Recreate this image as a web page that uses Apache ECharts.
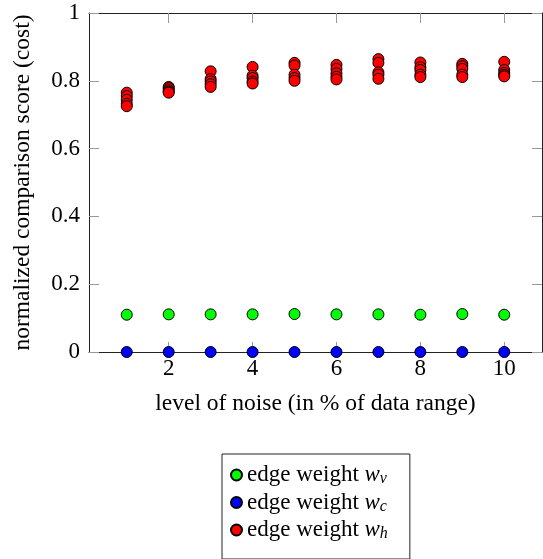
<!DOCTYPE html>
<html>
<head>
<meta charset="utf-8">
<script src="https://cdn.jsdelivr.net/npm/echarts@6.0.0/dist/echarts.min.js"></script>
<style>
  html, body { margin: 0; padding: 0; background: #fff; }
  #chart { width: 543px; height: 559px; }
</style>
</head>
<body>
<div id="chart"></div>
<script>
  var noiseLevels = [1, 2, 3, 4, 5, 6, 7, 8, 9, 10];
  var xTicks = [2, 4, 6, 8, 10];
  var yTicks = ['0', '0.2', '0.4', '0.6', '0.8', '1'];

  // edge weight w_v, one value per noise level
  var wvValues = [0.110, 0.111, 0.111, 0.111, 0.112, 0.111, 0.111, 0.110, 0.112, 0.110];
  // edge weight w_c
  var wcValues = [0, 0, 0, 0, 0, 0, 0, 0, 0, 0];
  // edge weight w_h, five runs per noise level
  var whValues = [
    [0.765, 0.755, 0.744, 0.732, 0.725],
    [0.782, 0.778, 0.772, 0.768, 0.765],
    [0.828, 0.805, 0.798, 0.790, 0.782],
    [0.841, 0.815, 0.808, 0.798, 0.792],
    [0.853, 0.845, 0.818, 0.808, 0.800],
    [0.847, 0.835, 0.822, 0.812, 0.804],
    [0.864, 0.853, 0.825, 0.818, 0.806],
    [0.854, 0.840, 0.832, 0.818, 0.811],
    [0.850, 0.843, 0.835, 0.818, 0.811],
    [0.856, 0.832, 0.823, 0.817, 0.813]
  ];

  var FONT = '"Liberation Serif", "DejaVu Serif", serif';

  function pairs(vals) {
    return noiseLevels.map(function (x, i) { return [x, vals[i]]; });
  }
  var whData = [];
  noiseLevels.forEach(function (x, i) {
    whValues[i].forEach(function (v) { whData.push([x, v]); });
  });

  function markerSeries(name, color, data) {
    return {
      name: name, type: 'scatter', symbol: 'circle', symbolSize: 11, clip: false,
      itemStyle: { color: color, borderColor: '#000', borderWidth: 1, opacity: 1 },
      emphasis: { disabled: true },
      data: data
    };
  }

  var tickStyle = { show: true, inside: true, length: 10, lineStyle: { color: '#999', width: 1 } };
  var lineStyle = { show: true, onZero: false, lineStyle: { color: '#222', width: 1 } };

  var chart = echarts.init(document.getElementById('chart'));
  chart.setOption({
    animation: false,
    textStyle: { fontFamily: FONT },
    grid: { left: 89, right: 1, top: 13, bottom: 207 },
    xAxis: [{
      type: 'value', min: 0.1, max: 10.9, position: 'bottom',
      axisLine: lineStyle, splitLine: { show: false },
      axisTick: Object.assign({ customValues: xTicks }, tickStyle),
      axisLabel: { customValues: xTicks, color: '#000', fontSize: 23, fontFamily: FONT, margin: 5 },
      name: 'level of noise (in % of data range)', nameLocation: 'middle', nameGap: 40,
      nameTextStyle: { color: '#000', fontSize: 23.5, fontFamily: FONT }
    }, {
      type: 'value', min: 0.1, max: 10.9, position: 'top',
      axisLine: lineStyle, splitLine: { show: false },
      axisTick: Object.assign({ customValues: xTicks }, tickStyle),
      axisLabel: { show: false }
    }],
    yAxis: [{
      type: 'value', min: 0, max: 1, interval: 0.2, position: 'left',
      axisLine: lineStyle, splitLine: { show: false },
      axisTick: tickStyle,
      axisLabel: {
        color: '#000', fontSize: 23, fontFamily: FONT, margin: 9,
        formatter: function (v) { return yTicks[Math.round(v / 0.2)]; }
      },
      name: 'normalized comparison score (cost)', nameLocation: 'middle', nameGap: 54,
      nameTextStyle: { color: '#000', fontSize: 23.5, fontFamily: FONT }
    }, {
      type: 'value', min: 0, max: 1, interval: 0.2, position: 'right',
      axisLine: lineStyle, splitLine: { show: false },
      axisTick: tickStyle, axisLabel: { show: false }
    }],
    legend: {
      orient: 'vertical', left: 222, top: 454, height: 103,
      padding: [8, 22, 17, 8], itemGap: 2.5,
      borderColor: '#222', borderWidth: 1, borderRadius: 0,
      icon: 'circle', itemWidth: 11, itemHeight: 11,
      selectedMode: false,
      data: ['wv', 'wc', 'wh'],
      formatter: function (name) {
        return '{t|edge weight }{w|w}{s|' + name.charAt(1) + '}';
      },
      textStyle: {
        rich: {
          t: { fontFamily: FONT, fontSize: 23, color: '#000', lineHeight: 24 },
          w: { fontFamily: FONT, fontSize: 23, fontStyle: 'italic', color: '#000', lineHeight: 24 },
          s: { fontFamily: FONT, fontSize: 16, fontStyle: 'italic', color: '#000', verticalAlign: 'bottom', padding: [9, 0, 0, 0], lineHeight: 24 }
        }
      }
    },
    series: [
      markerSeries('wv', '#00ff00', pairs(wvValues)),
      markerSeries('wc', '#0000ff', pairs(wcValues)),
      markerSeries('wh', '#ff0000', whData)
    ]
  });
</script>
</body>
</html>
